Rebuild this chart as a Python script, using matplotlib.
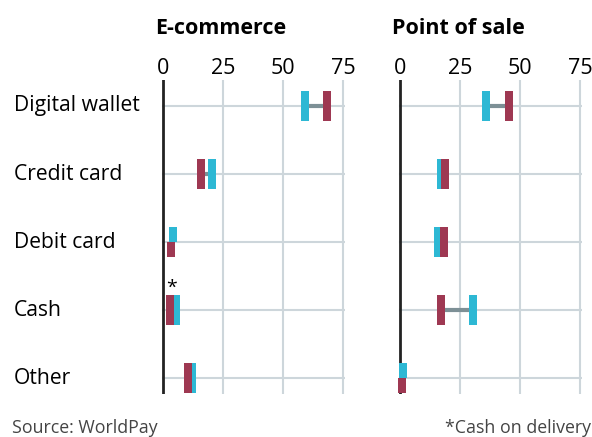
import matplotlib.pyplot as plt
import numpy as np

plt.rcParams['font.family'] = ['Open Sans', 'DejaVu Sans']

# ----------------------- Data --------------------------
categories = ["Digital wallet", "Credit card", "Debit card", "Cash", "Other"]
ecom_blue = [59, 20.5, 4.2, 5.5, 12]
ecom_red = [68.5, 15.8, 3.3, 2.9, 10.4]
pos_blue = [36, 17, 16, 30.5, 1.1]
pos_red = [45.5, 18.7, 18.3, 17, 1.0]
ticks = [0, 25, 50, 75]

# rows where the two markers sit on top of each other and get split
ecom_split = [2]
pos_split = [4]

BLUE = '#2db8d4'
RED = '#9e3852'
LINK = '#7d9096'
GRID = '#cdd6db'

W, H = 592, 437
fig = plt.figure(figsize=(W / 100, H / 100), dpi=100)

x_lo, x_hi = -1.5, 76
ppu = 2.4
top_px, bot_px = 80, 394
y_lo, y_hi = -0.38, 4.235


def make_axes(zero_px):
    left = zero_px + x_lo * ppu
    width = (x_hi - x_lo) * ppu
    return fig.add_axes([left / W, 1 - bot_px / H, width / W, (bot_px - top_px) / H])


def draw_panel(ax, blue, red, split, title):
    ys = np.arange(len(categories))
    ax.set_xlim(x_lo, x_hi)
    ax.set_ylim(y_hi, y_lo)

    # grid
    for t in ticks[1:]:
        ax.axvline(t, color=GRID, lw=1.5, zorder=0)
    for y in ys:
        ax.plot([0, x_hi], [y, y], color=GRID, lw=1.5, zorder=0)
    ax.axvline(0, color='#222222', lw=2, zorder=1)

    mw, mh = 3.3, 0.44
    for i, y in enumerate(ys):
        if i in split:
            ax.barh(y - mh / 4, mw, left=blue[i] - mw / 2, height=mh / 2, color=BLUE, zorder=3)
            ax.barh(y + mh / 4, mw, left=red[i] - mw / 2, height=mh / 2, color=RED, zorder=4)
        else:
            ax.plot([blue[i], red[i]], [y, y], color=LINK, lw=3, zorder=2, solid_capstyle='butt')
            ax.barh(y, mw, left=blue[i] - mw / 2, height=mh, color=BLUE, zorder=3)
            ax.barh(y, mw, left=red[i] - mw / 2, height=mh, color=RED, zorder=4)

    ax.set_xticks(ticks)
    ax.xaxis.tick_top()
    ax.tick_params(axis='x', length=0, pad=0.5, labelsize=15.5)
    ax.set_yticks([])
    for s in ax.spines.values():
        s.set_visible(False)
    ax.text(-3.3, -1.14, title, transform=ax.transData, fontsize=15.5,
            fontweight='bold', ha='left', va='center')


ax1 = make_axes(163)
draw_panel(ax1, ecom_blue, ecom_red, ecom_split, "E-commerce")
ax1.text(ecom_red[3] + 0.8, 3 - 0.33, "*", fontsize=14, ha='center', va='center')

ax2 = make_axes(400)
draw_panel(ax2, pos_blue, pos_red, pos_split, "Point of sale")

# category labels
for i, c in enumerate(categories):
    fig.text(14 / W, 1 - (106 + i * 68) / H, c, fontsize=15.2, ha='left', va='center')

fig.text(12 / W, 1 - 428 / H, "Source: WorldPay", fontsize=12.8, color='#444444',
         ha='left', va='center')
fig.text(591 / W, 1 - 428 / H, "*Cash on delivery", fontsize=12.8, color='#444444',
         ha='right', va='center')

fig.savefig("out.png", dpi=100)
